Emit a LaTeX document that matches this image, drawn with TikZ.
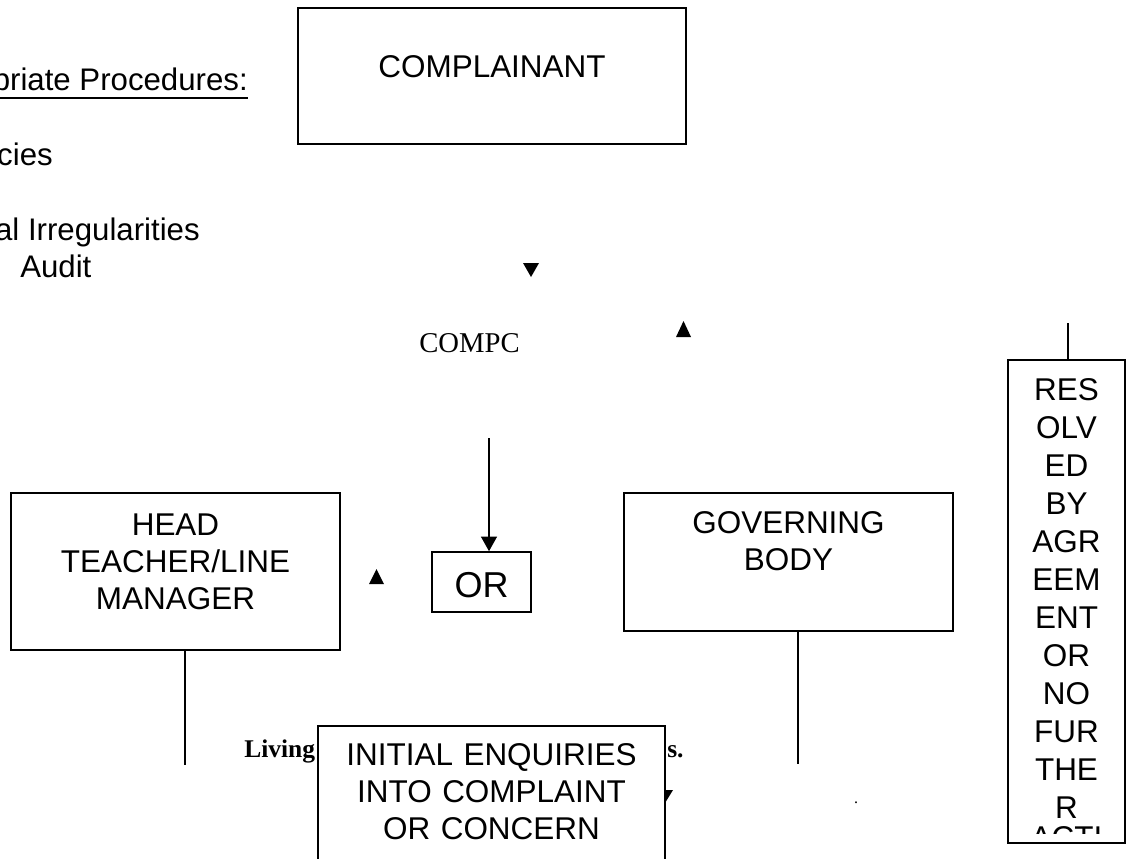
\documentclass[tikz,border=0pt]{standalone}
\usepackage{fontspec}
\setmainfont{Liberation Serif}
\newfontfamily\arialf{Liberation Sans}
\usetikzlibrary{arrows.meta}
\tikzset{
  boxst/.style={draw, line width=1.2pt, fill=white, inner sep=0pt, rectangle},
  boxtxt/.style={font=\arialf\fontsize{23.6pt}{27.75pt}\selectfont, inner sep=0pt, align=center, anchor=base},
  lefttxt/.style={font=\arialf\fontsize{23.4pt}{27pt}\selectfont, inner sep=0pt},
  serifbold/.style={font=\fontsize{19.1pt}{22pt}\selectfont\bfseries, inner sep=0pt},
  conn/.style={line width=1.1pt},
  tri/.style={fill=black}
}
\begin{document}
\begin{tikzpicture}[x=0.75pt,y=-0.75pt]
\clip (0,0) rectangle (1126,858);
\fill[white] (0,0) rectangle (1126,858);

% top-left texts
\node[lefttxt, anchor=base east] (proc) at (248,90) {priate Procedures:};
\draw[line width=1.4pt] ([yshift=-6pt]proc.base west) -- ([yshift=-6pt]proc.base east);
\node[lefttxt, anchor=base east] (cies) at (53,165) {cies};
\node[lefttxt, anchor=base east] (irreg) at (200,240) {al Irregularities};
\node[lefttxt, anchor=base west] (audit) at (20,277) {Audit};

% complainant
\node[boxst, minimum width=291pt, minimum height=102pt] (comp) at (492,76) {};
\node[boxtxt] (compt) at (492,77) {COMPLAINANT};

% small triangles
\fill[tri] (523,263) -- (539,263) -- (531,277) -- cycle;
\fill[tri] (676,337) -- (691,337) -- (683.5,321) -- cycle;
\fill[tri] (369,584) -- (384,584) -- (376.5,569) -- cycle;
\fill[tri] (657,790) -- (673,790) -- (665,803) -- cycle;

% COMPC
\node[font=\fontsize{21.5pt}{25pt}\selectfont, inner sep=0pt, anchor=base east] (compc) at (520,352) {COMPC};

% head teacher
\node[boxst, minimum width=246.75pt, minimum height=117.75pt] (head) at (175.5,571.5) {};
\node[boxtxt, text width=240pt] (headt) at (175.5,535) {HEAD\\TEACHER/LINE\\MANAGER};

% OR
\node[boxst, minimum width=74.25pt, minimum height=45pt] (or) at (481.5,582) {};
\node[boxtxt, font=\arialf\fontsize{27pt}{31pt}\selectfont] (ort) at (481.5,597) {OR};
\coordinate (arrs) at (489,438);
\draw[conn, -{Triangle[length=11pt,width=12pt]}] (arrs) -- (arrs |- or.north);

% governing body
\node[boxst, minimum width=246.75pt, minimum height=103.5pt] (gov) at (788.5,562) {};
\node[boxtxt, text width=240pt] (govt) at (788.5,533) {GOVERNING\\BODY};

% lines below boxes
\coordinate (hl) at (185,765);
\draw[conn] (hl |- head.south) -- (hl);
\coordinate (gl) at (798,764);
\draw[conn] (gl |- gov.south) -- (gl);

% living text and s.
\node[serifbold, anchor=base west] (living) at (244,757) {Living};
\node[serifbold, anchor=base west] (sdot) at (667,757) {s.};
\node[font=\fontsize{12pt}{14pt}\selectfont, inner sep=0pt, anchor=base] (dot) at (856,803) {.};

% initial enquiries
\node[boxst, minimum width=260.25pt, minimum height=130.5pt] (init) at (491.5,813) {};
\node[boxtxt, text width=255pt] (initt) at (491.5,765) {INITIAL ENQUIRIES\\INTO COMPLAINT\\OR CONCERN};

% resolved
\node[boxst, minimum width=87.75pt, minimum height=362.25pt] (res) at (1066.5,601.5) {};
\coordinate (rl) at (1068,323);
\draw[conn] (rl) -- (rl |- res.north);
\begin{scope}
\clip (1009,361) rectangle (1124,833);
\node[boxtxt, font=\arialf\fontsize{23.6pt}{28.5pt}\selectfont, text width=85pt] (rest) at (1066.5,400) {RES\\OLV\\ED\\BY\\AGR\\EEM\\ENT\\OR\\NO\\FUR\\THE\\R\\[-6pt]ACTI};
\end{scope}
\end{tikzpicture}
\end{document}
